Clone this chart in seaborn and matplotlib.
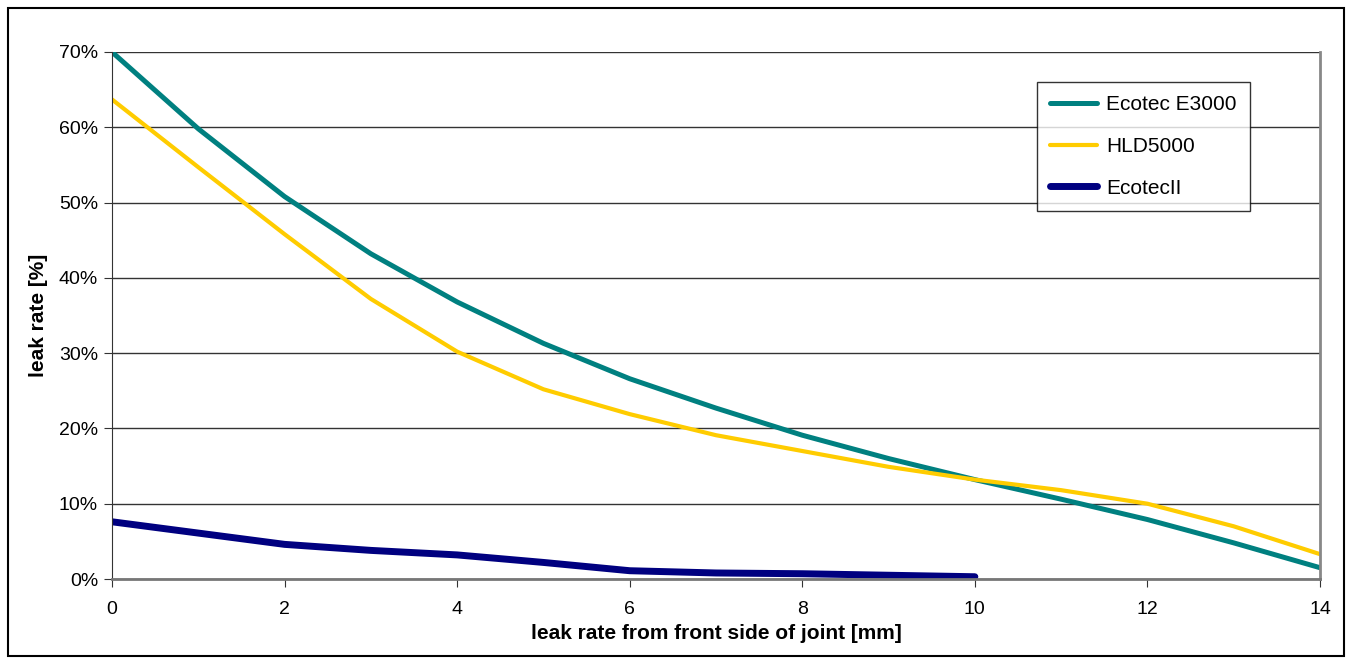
import numpy as np
import pandas as pd
import matplotlib.pyplot as plt
from matplotlib.patches import Rectangle
import seaborn as sns

# values
x_mm = [0, 1, 2, 3, 4, 5, 6, 7, 8, 9, 10, 11, 12, 13, 14]
ecotec_e3000 = [70.0, 59.8, 50.8, 43.2, 36.8, 31.3, 26.6, 22.7, 19.1, 16.0, 13.2, 10.6, 7.9, 4.8, 1.5]
hld5000 = [63.7, 54.7, 45.8, 37.2, 30.2, 25.2, 21.9, 19.1, 17.0, 14.9, 13.2, 11.8, 10.0, 7.0, 3.3]
x_ecotec2 = [0, 1, 2, 3, 4, 5, 6, 7, 8, 9, 10]
ecotec2 = [7.6, 6.1, 4.6, 3.8, 3.2, 2.2, 1.1, 0.8, 0.7, 0.5, 0.3]

series_names = ["Ecotec E3000", "HLD5000", "EcotecII"]
colors = ["#008080", "#FFCC00", "#000080"]
widths = [3.6, 3.0, 5.0]

sns.set_style("white")
plt.rcParams["font.family"] = ["Liberation Sans", "DejaVu Sans"]
plt.rcParams["text.color"] = "black"
plt.rcParams["axes.labelcolor"] = "black"

df = pd.concat([
    pd.DataFrame({"x": x_mm, "y": ecotec_e3000, "series": series_names[0]}),
    pd.DataFrame({"x": x_mm, "y": hld5000, "series": series_names[1]}),
    pd.DataFrame({"x": x_ecotec2, "y": ecotec2, "series": series_names[2]}),
])

fig = plt.figure(figsize=(13.52, 6.64), dpi=100)
ax = fig.add_axes([112 / 1352, 1 - 579 / 664, 1208 / 1352, 527 / 664])

for name, c, lw in zip(series_names, colors, widths):
    sns.lineplot(data=df[df["series"] == name], x="x", y="y", color=c,
                 linewidth=lw, label=name, ax=ax, solid_capstyle="round",
                 solid_joinstyle="round")

ax.set_xlim(0, 14)
ax.set_ylim(0, 70)
ax.set_xticks(range(0, 15, 2))
ax.set_yticks(range(0, 71, 10))
ax.set_yticklabels([f"{v}%" for v in range(0, 71, 10)])
ax.yaxis.grid(True, color="#333333", linewidth=1.0)
ax.set_axisbelow(True)

ax.spines["top"].set_visible(False)
ax.spines["left"].set_color("#333333")
ax.spines["bottom"].set_color("#777777")
ax.spines["bottom"].set_linewidth(2)
ax.spines["right"].set_color("#888888")
ax.spines["right"].set_linewidth(2)

ax.tick_params(axis="both", labelsize=14, labelcolor="black", direction="out",
               length=6, color="#333333", bottom=True, left=True, pad=4)
ax.tick_params(axis="x", pad=10)

ax.set_xlabel("leak rate from front side of joint [mm]", fontsize=15,
              fontweight="bold", labelpad=4, color="black")
ax.set_ylabel("leak rate [%]", fontsize=15, fontweight="bold", labelpad=8,
              color="black")

leg = ax.legend(loc="upper left", bbox_to_anchor=(0.766, 0.943), fontsize=15,
                frameon=True, fancybox=False, edgecolor="black",
                handlelength=2.25, labelspacing=1.1, borderpad=0.62,
                handletextpad=0.45, borderaxespad=0, labelcolor="black")
leg.get_frame().set_linewidth(1.0)

fig.patches.append(Rectangle((8 / 1352, 8 / 664), 1336 / 1352, 648 / 664,
                             transform=fig.transFigure, fill=False,
                             edgecolor="black", linewidth=1.5))

fig.savefig("out.png", dpi=100)
